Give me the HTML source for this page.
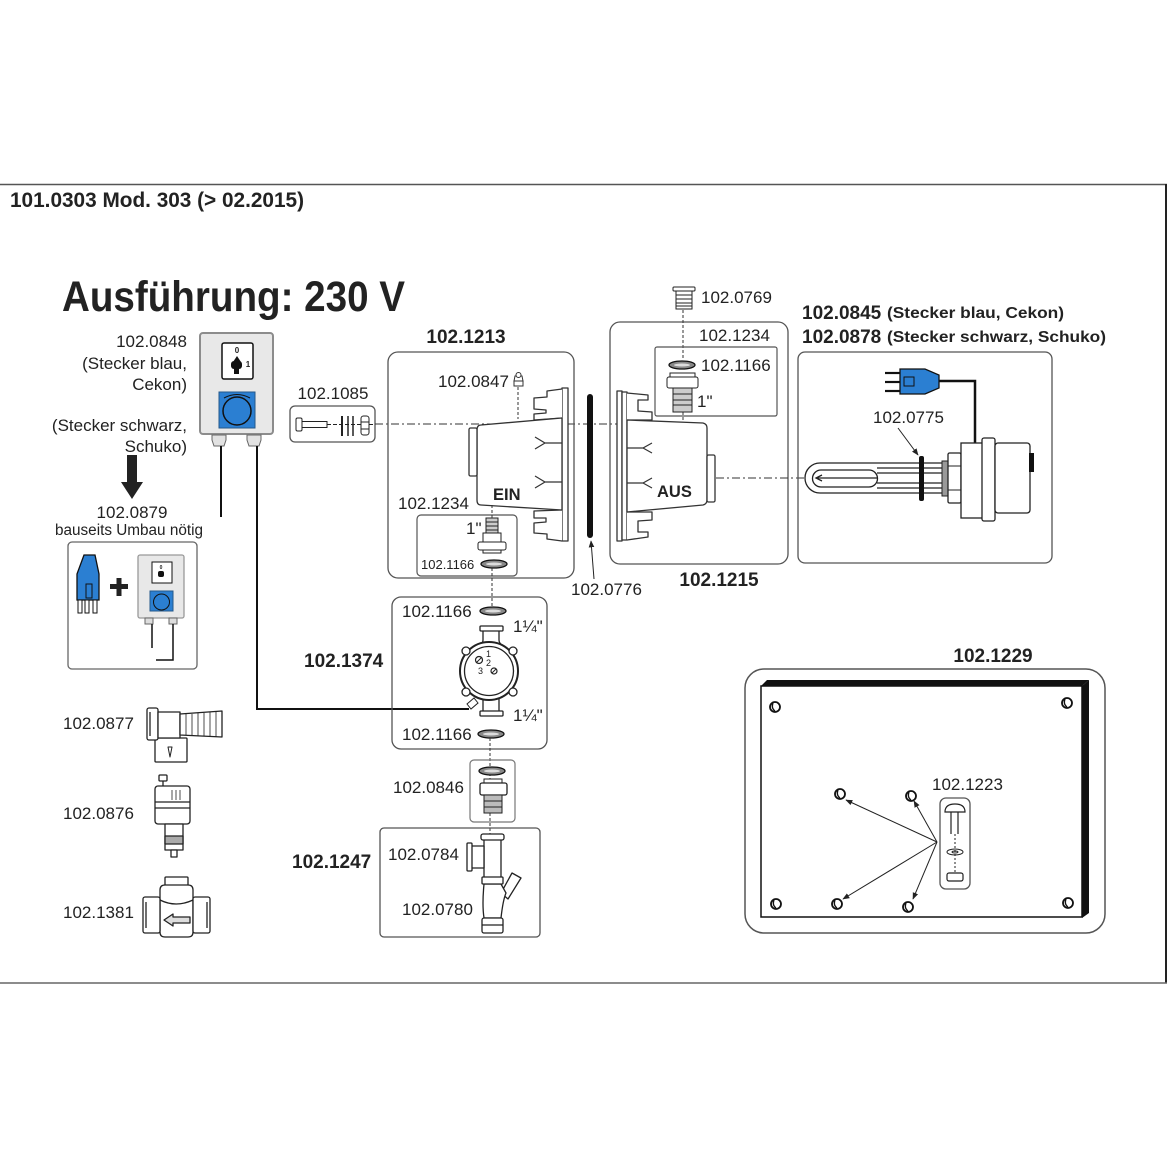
<!DOCTYPE html>
<html><head><meta charset="utf-8">
<style>
html,body{margin:0;padding:0;background:#fff;}
svg{display:block;}
text{font-family:"Liberation Sans",Arial,sans-serif;fill:#222;}
.b{font-weight:bold;}
</style></head><body>
<svg width="1168" height="1168" viewBox="0 0 1168 1168" xmlns="http://www.w3.org/2000/svg">
<defs>
<marker id="ah" viewBox="0 0 10 10" refX="9" refY="5" markerWidth="7" markerHeight="7" orient="auto-start-reverse">
<path d="M0 1 L10 5 L0 9 Z" fill="#222"/>
</marker>
</defs>
<rect width="1168" height="1168" fill="#fff"/>

<!-- frame -->
<line x1="0" y1="184.5" x2="1167" y2="184.5" stroke="#555" stroke-width="1.5"/>
<line x1="1166" y1="184" x2="1166" y2="983" stroke="#222" stroke-width="2"/>
<line x1="0" y1="983" x2="1167" y2="983" stroke="#666" stroke-width="1.5"/>

<!-- titles -->
<text x="10" y="207" class="b" font-size="21" textLength="294" lengthAdjust="spacingAndGlyphs">101.0303 Mod. 303 (&gt; 02.2015)</text>
<text x="62" y="311" class="b" font-size="43" textLength="343" lengthAdjust="spacingAndGlyphs">Ausführung: 230 V</text>

<!-- ============ control box 102.0848 ============ -->
<g font-size="17">
<text x="187" y="347" text-anchor="end">102.0848</text>
<text x="187" y="369" text-anchor="end">(Stecker blau,</text>
<text x="187" y="390" text-anchor="end">Cekon)</text>
<text x="187" y="431" text-anchor="end">(Stecker schwarz,</text>
<text x="187" y="452" text-anchor="end">Schuko)</text>
<text x="132" y="518" text-anchor="middle">102.0879</text>
</g>
<text x="129" y="535" font-size="15.5" text-anchor="middle" textLength="148" lengthAdjust="spacingAndGlyphs">bauseits Umbau nötig</text>

<rect x="200" y="333" width="73" height="101" rx="3" fill="#e8e8e8" stroke="#8c8c8c" stroke-width="2"/>
<rect x="222" y="343" width="31" height="36" rx="2" fill="#fff" stroke="#111" stroke-width="1.5"/>
<text x="237" y="353" font-size="8" class="b" text-anchor="middle">0</text>
<text x="248" y="367" font-size="8" class="b" text-anchor="middle">1</text>
<path d="M237 356 L233 362 L241 362 Z" fill="#111"/>
<rect x="231" y="361" width="11" height="8" rx="3" fill="#111"/>
<rect x="234" y="368" width="5" height="6" fill="#111"/>
<rect x="219" y="392" width="36" height="36" fill="#2b7fd2" stroke="#25588a"/>
<path d="M224 398 Q237 391 250 398" fill="none" stroke="#111" stroke-width="1"/>
<circle cx="237" cy="411" r="14" fill="#2b7fd2" stroke="#111" stroke-width="1.5"/>
<path d="M212 435 h14 v5 l-2 6 h-10 l-2 -6 z" fill="#e2e2e2" stroke="#666"/>
<path d="M247 435 h14 v5 l-2 6 h-10 l-2 -6 z" fill="#e2e2e2" stroke="#666"/>
<line x1="221" y1="446" x2="221" y2="517" stroke="#111" stroke-width="2"/>
<polyline points="257,446 257,709 469,709" fill="none" stroke="#111" stroke-width="2"/>

<!-- arrow down -->
<rect x="127" y="455" width="10" height="28" fill="#222"/>
<path d="M121 482 L143 482 L132 499 Z" fill="#222"/>

<!-- box with plug + control -->
<rect x="68" y="542" width="129" height="127" rx="4" fill="none" stroke="#666" stroke-width="1.3"/>
<path d="M84 555 H95 L99 574 V600 H77 V574 Z" fill="#2b7fd2" stroke="#111" stroke-width="1.3"/>
<rect x="86" y="584" width="6" height="14" fill="none" stroke="#111"/>
<rect x="78" y="600" width="4" height="13" fill="#fff" stroke="#111"/>
<rect x="85" y="600" width="4" height="13" fill="#fff" stroke="#111"/>
<rect x="93" y="600" width="4" height="13" fill="#fff" stroke="#111"/>
<rect x="110" y="584" width="18" height="5" fill="#222"/>
<rect x="116.5" y="578" width="5" height="18" fill="#222"/>
<rect x="138" y="555" width="46" height="63" rx="2" fill="#e8e8e8" stroke="#999" stroke-width="1.3"/>
<rect x="152" y="562" width="20" height="21" fill="#fff" stroke="#111"/>
<text x="161" y="569" font-size="5" class="b" text-anchor="middle">0</text>
<rect x="158" y="571" width="6" height="6" rx="2" fill="#111"/>
<rect x="150" y="591" width="23" height="20" fill="#2b7fd2" stroke="#25588a"/>
<circle cx="161.5" cy="602" r="8" fill="#2b7fd2" stroke="#111"/>
<rect x="145" y="618" width="8" height="6" fill="#ddd" stroke="#666"/>
<rect x="169" y="618" width="8" height="6" fill="#ddd" stroke="#666"/>
<line x1="152" y1="624" x2="152" y2="648" stroke="#111" stroke-width="1.5"/>
<polyline points="173,624 173,660 156,660" fill="none" stroke="#111" stroke-width="1.5"/>

<!-- ============ 102.1085 ============ -->
<text x="333" y="399" font-size="17" text-anchor="middle">102.1085</text>
<rect x="290" y="406" width="85" height="36" rx="5" fill="none" stroke="#555" stroke-width="1.3"/>
<rect x="296" y="418" width="6" height="13" rx="1.5" fill="#fff" stroke="#222"/>
<rect x="302" y="421.5" width="25" height="6" fill="#fff" stroke="#222"/>
<line x1="327" y1="424.5" x2="375" y2="424.5" stroke="#222" stroke-dasharray="4 2"/>
<line x1="342" y1="416" x2="342" y2="436" stroke="#222" stroke-width="2"/>
<line x1="348" y1="416" x2="348" y2="436" stroke="#222" stroke-width="1.5"/>
<line x1="353" y1="416" x2="353" y2="436" stroke="#222" stroke-width="1.5"/>
<rect x="361" y="416" width="8" height="19" rx="2.5" fill="#fff" stroke="#222"/>
<line x1="361" y1="422" x2="369" y2="422" stroke="#222"/>
<line x1="361" y1="429" x2="369" y2="429" stroke="#222"/>

<!-- main dash-dot axis -->
<line x1="375" y1="424" x2="634" y2="424" stroke="#333" stroke-width="1" stroke-dasharray="8 3 2 3"/>

<!-- ============ EIN 102.1213 ============ -->
<text x="466" y="343" class="b" font-size="19" text-anchor="middle">102.1213</text>
<rect x="388" y="352" width="186" height="226" rx="10" fill="none" stroke="#555" stroke-width="1.3"/>
<g fill="#fff" stroke="#333" stroke-width="1.3" stroke-linejoin="round">
<!-- plate -->
<rect x="562" y="388" width="6" height="153"/>
<!-- top tab -->
<path d="M562 389 L547 391 L547 397 L534 398 L534 409 L546 410 L546 413 L534 414 L534 420 L562 418"/>
<!-- bottom tab -->
<path d="M562 510 L534 511 L534 518 L546 518 L546 522 L534 523 L534 533 L547 534 L547 539 L562 541"/>
<!-- body -->
<path d="M481 425 L562 418 L562 510 L481 505 Q477 505 477 500 L477 430 Q477 425 481 425 Z"/>
<rect x="469" y="428" width="8" height="48" rx="1.5"/>
</g>
<g fill="none" stroke="#333" stroke-width="1.2">
<path d="M562 443 L545 443 L535 437 M545 443 L535 449"/>
<path d="M562 482 L545 482 L535 476 M545 482 L535 488"/>
</g>
<text x="493" y="500" class="b" font-size="16.5">EIN</text>
<text x="438" y="387" font-size="17">102.0847</text>
<path d="M514 381 h9 v5 h-9 z M515 376 h7 l1 5 h-9 z" fill="#fff" stroke="#333"/>
<circle cx="518.5" cy="375" r="2.5" fill="#fff" stroke="#333"/>
<line x1="518" y1="387" x2="518" y2="419" stroke="#333" stroke-dasharray="3 2"/>
<!-- inner 102.1234 -->
<text x="398" y="509" font-size="17">102.1234</text>
<rect x="417" y="515" width="100" height="61" rx="4" fill="none" stroke="#555" stroke-width="1.2"/>
<text x="466" y="534" font-size="17">1"</text>
<rect x="486" y="518" width="12" height="15" fill="#ccc" stroke="#222"/>
<line x1="486" y1="522" x2="498" y2="522" stroke="#222"/>
<line x1="486" y1="526" x2="498" y2="526" stroke="#222"/>
<line x1="486" y1="530" x2="498" y2="530" stroke="#222"/>
<rect x="483" y="533" width="18" height="9" fill="#fff" stroke="#222"/>
<rect x="478" y="542" width="28" height="8" rx="2" fill="#fff" stroke="#222"/>
<rect x="483" y="550" width="18" height="3" fill="#fff" stroke="#222"/>
<ellipse cx="494" cy="564" rx="13" ry="4" fill="#888" stroke="#111" stroke-width="1.3"/>
<ellipse cx="494" cy="564" rx="8" ry="1.5" fill="#ddd"/>
<text x="421" y="569" font-size="13">102.1166</text>
<line x1="492" y1="505" x2="492" y2="518" stroke="#333" stroke-dasharray="3 2"/>
<line x1="492" y1="568" x2="492" y2="607" stroke="#333" stroke-dasharray="3 2"/>

<!-- gasket 102.0776 -->
<rect x="587" y="394" width="6" height="144" rx="3" fill="#111"/>
<line x1="594" y1="579" x2="591" y2="541" stroke="#222" stroke-width="1" marker-end="url(#ah)"/>
<text x="571" y="595" font-size="17">102.0776</text>

<!-- ============ AUS 102.1215 ============ -->
<rect x="610" y="322" width="178" height="242" rx="10" fill="none" stroke="#555" stroke-width="1.3"/>
<text x="719" y="586" class="b" font-size="19" text-anchor="middle">102.1215</text>
<g fill="#fff" stroke="#333" stroke-width="1.3" stroke-linejoin="round">
<rect x="617" y="391" width="5" height="150"/>
<rect x="622" y="392" width="5" height="148"/>
<path d="M627 393 L648 395 L648 400 L638 400 L638 411 L652 412 L652 420 L627 420"/>
<path d="M627 512 L652 512 L652 520 L638 521 L638 532 L648 532 L648 537 L627 540"/>
<path d="M627 420 L703 423 Q707 424 707 428 L707 500 Q707 504 703 505 L627 512 Z"/>
<rect x="707" y="455" width="8" height="47" rx="1.5"/>
</g>
<g fill="none" stroke="#333" stroke-width="1.2">
<path d="M627 448 L643 448 L652 443 M643 448 L652 453"/>
<path d="M627 483 L643 483 L652 478 M643 483 L652 488"/>
</g>
<text x="657" y="497" class="b" font-size="16.5">AUS</text>
<!-- 102.0769 -->
<rect x="673" y="287" width="22" height="4" rx="1" fill="#fff" stroke="#222"/>
<rect x="676" y="291" width="16" height="18" fill="#fff" stroke="#222"/>
<g stroke="#222" stroke-width="1"><line x1="676" y1="295" x2="692" y2="295"/><line x1="676" y1="299" x2="692" y2="299"/><line x1="676" y1="303" x2="692" y2="303"/><line x1="676" y1="306" x2="692" y2="306"/></g>
<text x="701" y="303" font-size="17">102.0769</text>
<line x1="683" y1="310" x2="683" y2="360" stroke="#333" stroke-dasharray="3 2"/>
<line x1="683" y1="412" x2="683" y2="420" stroke="#333" stroke-dasharray="3 2"/>
<!-- inner 102.1234 -->
<text x="699" y="341" font-size="17">102.1234</text>
<rect x="655" y="347" width="122" height="69" rx="2" fill="none" stroke="#555" stroke-width="1.2"/>
<ellipse cx="682" cy="365" rx="13" ry="4" fill="#888" stroke="#111" stroke-width="1.3"/>
<ellipse cx="682" cy="365" rx="8" ry="1.5" fill="#ddd"/>
<text x="701" y="371" font-size="17">102.1166</text>
<rect x="670" y="373" width="25" height="4" fill="#fff" stroke="#222"/>
<rect x="667" y="377" width="31" height="11" rx="2" fill="#fff" stroke="#222"/>
<rect x="673" y="388" width="19" height="24" fill="#ccc" stroke="#222"/>
<g stroke="#222"><line x1="673" y1="394" x2="692" y2="394"/><line x1="673" y1="400" x2="692" y2="400"/><line x1="673" y1="405" x2="692" y2="405"/></g>
<text x="697" y="407" font-size="17">1"</text>
<line x1="716" y1="478" x2="806" y2="478" stroke="#333" stroke-width="1" stroke-dasharray="8 3 2 3"/>

<!-- ============ heater ============ -->
<text x="802" y="319" class="b" font-size="19">102.0845</text>
<text x="887" y="318" class="b" font-size="16" textLength="177" lengthAdjust="spacingAndGlyphs">(Stecker blau, Cekon)</text>
<text x="802" y="343" class="b" font-size="19">102.0878</text>
<text x="887" y="342" class="b" font-size="16" textLength="219" lengthAdjust="spacingAndGlyphs">(Stecker schwarz, Schuko)</text>
<rect x="798" y="352" width="254" height="211" rx="7" fill="none" stroke="#555" stroke-width="1.3"/>
<g stroke="#111" stroke-width="2.2"><line x1="885" y1="373" x2="901" y2="373"/><line x1="885" y1="382" x2="901" y2="382"/><line x1="885" y1="391" x2="901" y2="391"/></g>
<path d="M900 369 H925 L939 375 V388 L925 394 H900 Z" fill="#2b7fd2" stroke="#111" stroke-width="1.3"/>
<rect x="904" y="377" width="10" height="9" fill="none" stroke="#111"/>
<polyline points="939,381 975,381 975,444" fill="none" stroke="#111" stroke-width="2.5"/>
<g fill="none" stroke="#222" stroke-width="1.3">
<path d="M943 463 H820 A15 15 0 0 0 820 493 H943"/>
<path d="M821 470 H869 A8.5 8.5 0 0 1 869 487 H821 A8.5 8.5 0 0 1 821 470 Z"/>
<line x1="877" y1="468" x2="943" y2="468"/>
<line x1="877" y1="473" x2="943" y2="473"/>
<line x1="877" y1="483" x2="943" y2="483"/>
<line x1="877" y1="488" x2="943" y2="488"/>
<path d="M877 478 H822 L817 478"/>
<path d="M822 475 L816 478 L822 481"/>
</g>
<rect x="919" y="456" width="5" height="45" rx="2" fill="#111"/>
<line x1="898" y1="428" x2="918" y2="455" stroke="#222" stroke-width="1" marker-end="url(#ah)"/>
<text x="873" y="423" font-size="17">102.0775</text>
<rect x="942" y="461" width="6" height="35" fill="#999" stroke="#222"/>
<rect x="948" y="453" width="13" height="50" rx="1.5" fill="#fff" stroke="#222" stroke-width="1.3"/>
<line x1="948" y1="466" x2="961" y2="466" stroke="#222"/>
<line x1="948" y1="490" x2="961" y2="490" stroke="#222"/>
<rect x="961" y="443" width="22" height="75" fill="#fff" stroke="#222" stroke-width="1.3"/>
<rect x="982" y="438" width="13" height="83" rx="2" fill="#fff" stroke="#222" stroke-width="1.3"/>
<rect x="995" y="443" width="35" height="70" rx="3" fill="#fff" stroke="#222" stroke-width="1.3"/>
<rect x="1029" y="453" width="5" height="19" fill="#111"/>

<!-- ============ pump 102.1374 ============ -->
<text x="304" y="667" class="b" font-size="19">102.1374</text>
<rect x="392" y="597" width="155" height="152" rx="9" fill="none" stroke="#555" stroke-width="1.3"/>
<text x="402" y="617" font-size="17">102.1166</text>
<ellipse cx="493" cy="611" rx="13" ry="4" fill="#888" stroke="#111" stroke-width="1.3"/>
<ellipse cx="493" cy="611" rx="8" ry="1.5" fill="#ddd"/>
<text x="513" y="632" font-size="17">1¼"</text>
<rect x="480" y="626" width="23" height="5" rx="1" fill="#fff" stroke="#222" stroke-width="1.3"/>
<path d="M483 631 V640 Q483 643 480 645 M499 631 V640 Q499 643 502 645" fill="none" stroke="#222" stroke-width="1.3"/>
<circle cx="489" cy="671" r="29" fill="#fff" stroke="#222" stroke-width="2"/>
<circle cx="489" cy="671" r="24.5" fill="none" stroke="#222" stroke-width="1.3"/>
<g fill="#fff" stroke="#222" stroke-width="1.3">
<circle cx="466" cy="651" r="4"/><circle cx="513" cy="651" r="4"/><circle cx="466" cy="692" r="4"/><circle cx="513" cy="692" r="4"/>
</g>
<text x="486" y="657" font-size="9">1</text>
<text x="486" y="666" font-size="9">2</text>
<text x="478" y="674" font-size="9">3</text>
<circle cx="479" cy="660" r="3.5" fill="none" stroke="#222" stroke-width="1.2"/>
<line x1="476" y1="663" x2="482" y2="657" stroke="#222"/>
<circle cx="494" cy="671" r="3" fill="none" stroke="#222" stroke-width="1.2"/>
<line x1="492" y1="673" x2="496" y2="669" stroke="#222"/>
<path d="M483 699 V711 M499 699 V711" fill="none" stroke="#222" stroke-width="1.3"/>
<rect x="480" y="711" width="23" height="5" rx="1" fill="#fff" stroke="#222" stroke-width="1.3"/>
<path d="M467 704 L474 698 L478 703 L471 709 Z" fill="#fff" stroke="#222"/>
<text x="513" y="721" font-size="17">1¼"</text>
<text x="402" y="740" font-size="17">102.1166</text>
<ellipse cx="491" cy="734" rx="13" ry="4" fill="#888" stroke="#111" stroke-width="1.3"/>
<ellipse cx="491" cy="734" rx="8" ry="1.5" fill="#ddd"/>
<line x1="490" y1="738" x2="490" y2="835" stroke="#333" stroke-dasharray="3 2"/>

<!-- 102.0846 -->
<rect x="470" y="760" width="45" height="62" rx="4" fill="none" stroke="#777" stroke-width="1.2"/>
<text x="393" y="793" font-size="17">102.0846</text>
<ellipse cx="492" cy="771" rx="13" ry="4" fill="#888" stroke="#111" stroke-width="1.3"/>
<ellipse cx="492" cy="771" rx="8" ry="1.5" fill="#ddd"/>
<rect x="484" y="779" width="18" height="4" fill="#fff" stroke="#222"/>
<rect x="480" y="783" width="27" height="12" rx="2" fill="#fff" stroke="#222" stroke-width="1.3"/>
<rect x="484" y="795" width="18" height="18" fill="#bbb" stroke="#222"/>
<line x1="484" y1="801" x2="502" y2="801" stroke="#222"/>
<line x1="484" y1="807" x2="502" y2="807" stroke="#222"/>

<!-- 102.1247 -->
<text x="292" y="868" class="b" font-size="19">102.1247</text>
<rect x="380" y="828" width="160" height="109" rx="4" fill="none" stroke="#555" stroke-width="1.3"/>
<text x="388" y="860" font-size="17">102.0784</text>
<text x="402" y="915" font-size="17">102.0780</text>
<g fill="#fff" stroke="#222" stroke-width="1.3" stroke-linejoin="round">
<path d="M484 840 V877 M501 840 V877"/>
<rect x="481" y="834" width="23" height="6" rx="2"/>
<rect x="471" y="846" width="13" height="22"/>
<rect x="467" y="843" width="5" height="28" rx="1"/>
<path d="M501 893 L512 873 L521 878 L508 899 Z"/>
<path d="M484 884 Q482 905 484 918 H501 Q503 900 506 893 L501 884 Z"/>
<rect x="482" y="877" width="21" height="7" rx="1"/>
<rect x="482" y="918" width="21" height="15" rx="2"/>
<line x1="482" y1="925" x2="503" y2="925"/>
</g>

<!-- ============ left valves ============ -->
<g font-size="17">
<text x="63" y="729">102.0877</text>
<text x="63" y="819">102.0876</text>
<text x="63" y="918">102.1381</text>
</g>
<g fill="#fff" stroke="#222" stroke-width="1.3" stroke-linejoin="round">
<!-- 0877 -->
<rect x="155" y="738" width="32" height="24" rx="1"/>
<path d="M168 747 L172 747 L170 757 Z" fill="none" stroke-width="1"/>
<rect x="147" y="708" width="11" height="32" rx="2"/>
<line x1="150" y1="712" x2="150" y2="736"/>
<rect x="158" y="712" width="22" height="26"/>
<path d="M180 714 L222 711 L222 737 L180 735 Z"/>
<path d="M186 714 V735 M192 714 V736 M198 713 V736 M204 713 V736 M210 712 V736 M216 712 V737" stroke-width="0.8"/>
<!-- 0876 -->
<rect x="159" y="775" width="8" height="6" rx="1"/>
<line x1="163" y1="781" x2="163" y2="786"/>
<rect x="155" y="786" width="35" height="38" rx="3"/>
<line x1="155" y1="802" x2="190" y2="802"/>
<line x1="155" y1="808" x2="190" y2="808"/>
<path d="M172 790 V800 M176 790 V800 M180 790 V800" stroke-width="0.8"/>
<rect x="165" y="824" width="18" height="26"/>
<rect x="165" y="836" width="18" height="8" fill="#aaa"/>
<rect x="171" y="850" width="6" height="7"/>
<!-- 1381 -->
<rect x="165" y="877" width="23" height="10" rx="1"/>
<path d="M160 890 Q160 885 165 885 H188 Q193 885 193 890 V932 Q193 937 188 937 H165 Q160 937 160 932 Z"/>
<path d="M160 900 Q176 908 193 900" fill="none"/>
<rect x="143" y="897" width="17" height="36" rx="2"/>
<rect x="193" y="897" width="17" height="36" rx="2"/>
<path d="M146 902 V928 M207 902 V928" fill="none"/>
<path d="M190 917 H173 V914 L164 920 L173 926 V923 H190 Z" fill="#ddd"/>
</g>

<!-- ============ panel 102.1229 ============ -->
<text x="993" y="662" class="b" font-size="19" text-anchor="middle">102.1229</text>
<rect x="745" y="669" width="360" height="264" rx="19" fill="none" stroke="#555" stroke-width="1.5"/>
<rect x="761" y="686" width="321" height="231" fill="#fff" stroke="#111" stroke-width="1.5"/>
<path d="M761 686 L767 680 L1089 680 L1082 686 Z" fill="#111"/>
<path d="M1082 686 L1089 680 L1089 913 L1082 918 Z" fill="#111"/>
<g fill="#fff" stroke="#111" stroke-width="1.8">
<circle cx="775" cy="707" r="5"/><circle cx="1067" cy="703" r="5"/>
<circle cx="776" cy="904" r="5"/><circle cx="1068" cy="903" r="5"/>
<circle cx="840" cy="794" r="5"/><circle cx="911" cy="796" r="5"/>
<circle cx="837" cy="904" r="5"/><circle cx="908" cy="907" r="5"/>
</g>
<g stroke="#111" stroke-width="1.4">
<path d="M773 703 Q771 708 775 711 M1065 699 Q1063 704 1067 707 M774 900 Q772 905 776 908 M1066 899 Q1064 904 1068 907 M838 790 Q836 795 840 798 M909 792 Q907 797 911 800 M835 900 Q833 905 837 908 M906 903 Q904 908 908 911" fill="none"/>
</g>
<g stroke="#222" stroke-width="1" fill="none">
<line x1="937" y1="842" x2="846" y2="800" marker-end="url(#ah)"/>
<line x1="937" y1="842" x2="914" y2="801" marker-end="url(#ah)"/>
<line x1="937" y1="842" x2="843" y2="899" marker-end="url(#ah)"/>
<line x1="937" y1="842" x2="913" y2="899" marker-end="url(#ah)"/>
</g>
<text x="932" y="790" font-size="17">102.1223</text>
<rect x="940" y="798" width="30" height="91" rx="6" fill="none" stroke="#555" stroke-width="1.3"/>
<path d="M945 812 Q945 804 955 804 Q965 804 965 812 Z" fill="#fff" stroke="#222" stroke-width="1.2"/>
<path d="M951 812 V834 M958 812 V834" stroke="#222" stroke-width="1.2"/>
<line x1="955" y1="834" x2="955" y2="872" stroke="#222" stroke-dasharray="2 2"/>
<ellipse cx="955" cy="852" rx="8" ry="3" fill="none" stroke="#222"/>
<ellipse cx="955" cy="852" rx="3" ry="1" fill="none" stroke="#222"/>
<rect x="947" y="873" width="16" height="8" rx="2" fill="#fff" stroke="#222" stroke-width="1.2"/>
</svg>
</body></html>
